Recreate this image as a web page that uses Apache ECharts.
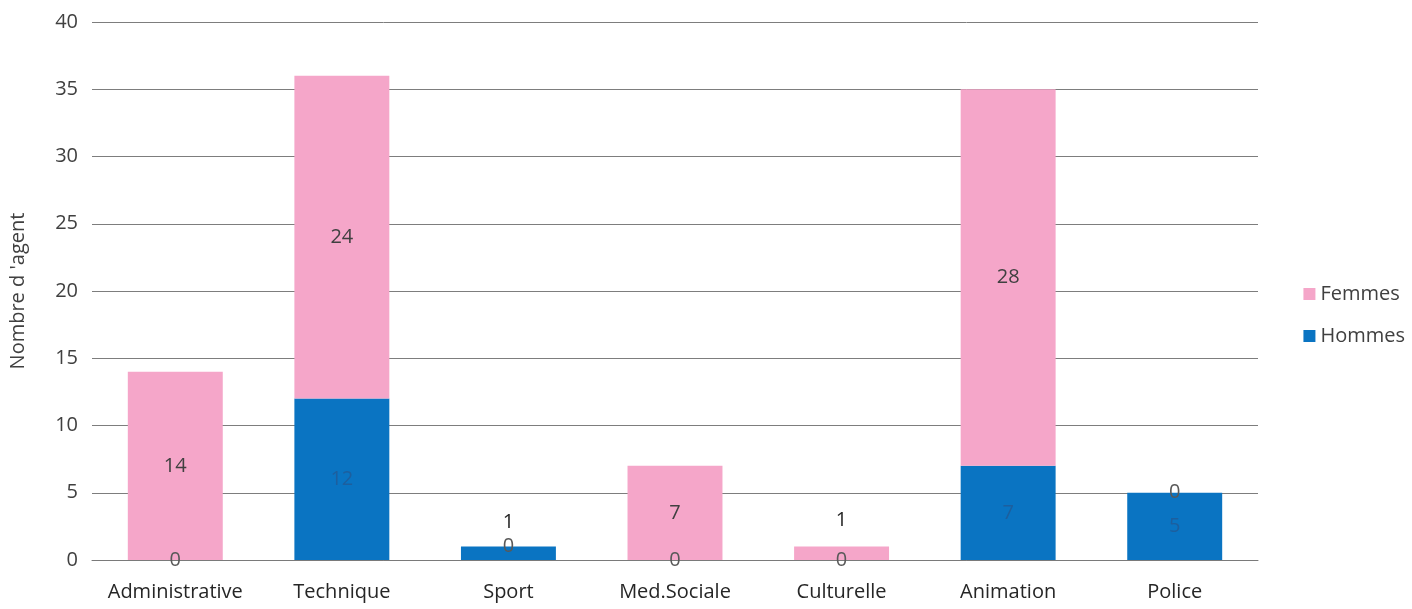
<!DOCTYPE html>
<html><head><meta charset="utf-8">
<script src="https://cdn.jsdelivr.net/npm/echarts@6/dist/echarts.min.js"></script>
<style>html,body{margin:0;padding:0;background:#fff}#c{width:1412px;height:609px}</style>
</head><body><div id="c"></div>
<script>
const categories = ['Administrative','Technique','Sport','Med.Sociale','Culturelle','Animation','Police'];
const hommes = [0, 12, 1, 0, 0, 7, 5];
const femmes = [14, 24, 0, 7, 1, 28, 0];
const yTicks = [0, 40, 5];

const labelTopIdxH = [2];
const labelTopIdxF = [4];

const chart = echarts.init(document.getElementById('c'));
const font = 'Open Sans, Noto Sans, sans-serif';
function items(arr, topIdx, dist) {
  return arr.map((v, i) => {
    if (topIdx.includes(i)) return {value: v, label: {position: 'top', distance: dist, color: '#262626'}};
    if (v === 0) return {value: v, label: {color: '#595959'}};
    return {value: v};
  });
}
chart.setOption({
  animation: false,
  grid: {left: 92, right: 154, top: 22, bottom: 49},
  legend: {
    orient: 'vertical', right: 2, top: 279, itemWidth: 12, itemHeight: 12, itemGap: 22,
    icon: 'rect', data: ['Femmes','Hommes'],
    textStyle: {fontFamily: font, fontSize: 20, color: '#404040'}
  },
  xAxis: {
    type: 'category', data: categories,
    axisLine: {lineStyle: {color: '#7a7a7a'}}, axisTick: {show: false},
    axisLabel: {fontFamily: font, fontSize: 20, color: '#262626', margin: 22, interval: 0, hideOverlap: false}
  },
  yAxis: {
    type: 'value', min: yTicks[0], max: yTicks[1], interval: yTicks[2],
    name: "Nombre d 'agent", nameLocation: 'middle', nameGap: 64, nameRotate: 90,
    nameTextStyle: {fontFamily: font, fontSize: 20, color: '#404040'},
    axisLabel: {fontFamily: font, fontSize: 20, color: '#404040', margin: 14},
    splitLine: {lineStyle: {color: '#7d7d7d', width: 1}},
    axisLine: {show: false}, axisTick: {show: false}
  },
  series: [
    {name: 'Hommes', type: 'bar', stack: 's', barWidth: '57%', data: items(hommes, labelTopIdxH, 14),
     itemStyle: {color: '#0a74c2'},
     label: {show: true, position: 'inside', fontFamily: font, fontSize: 20, color: '#1d5f9e'}},
    {name: 'Femmes', type: 'bar', stack: 's', barWidth: '57%', data: items(femmes, labelTopIdxF, 16),
     itemStyle: {color: '#f5a6c9'},
     label: {show: true, position: 'inside', fontFamily: font, fontSize: 20, color: '#404040'}}
  ]
});
</script></body></html>
